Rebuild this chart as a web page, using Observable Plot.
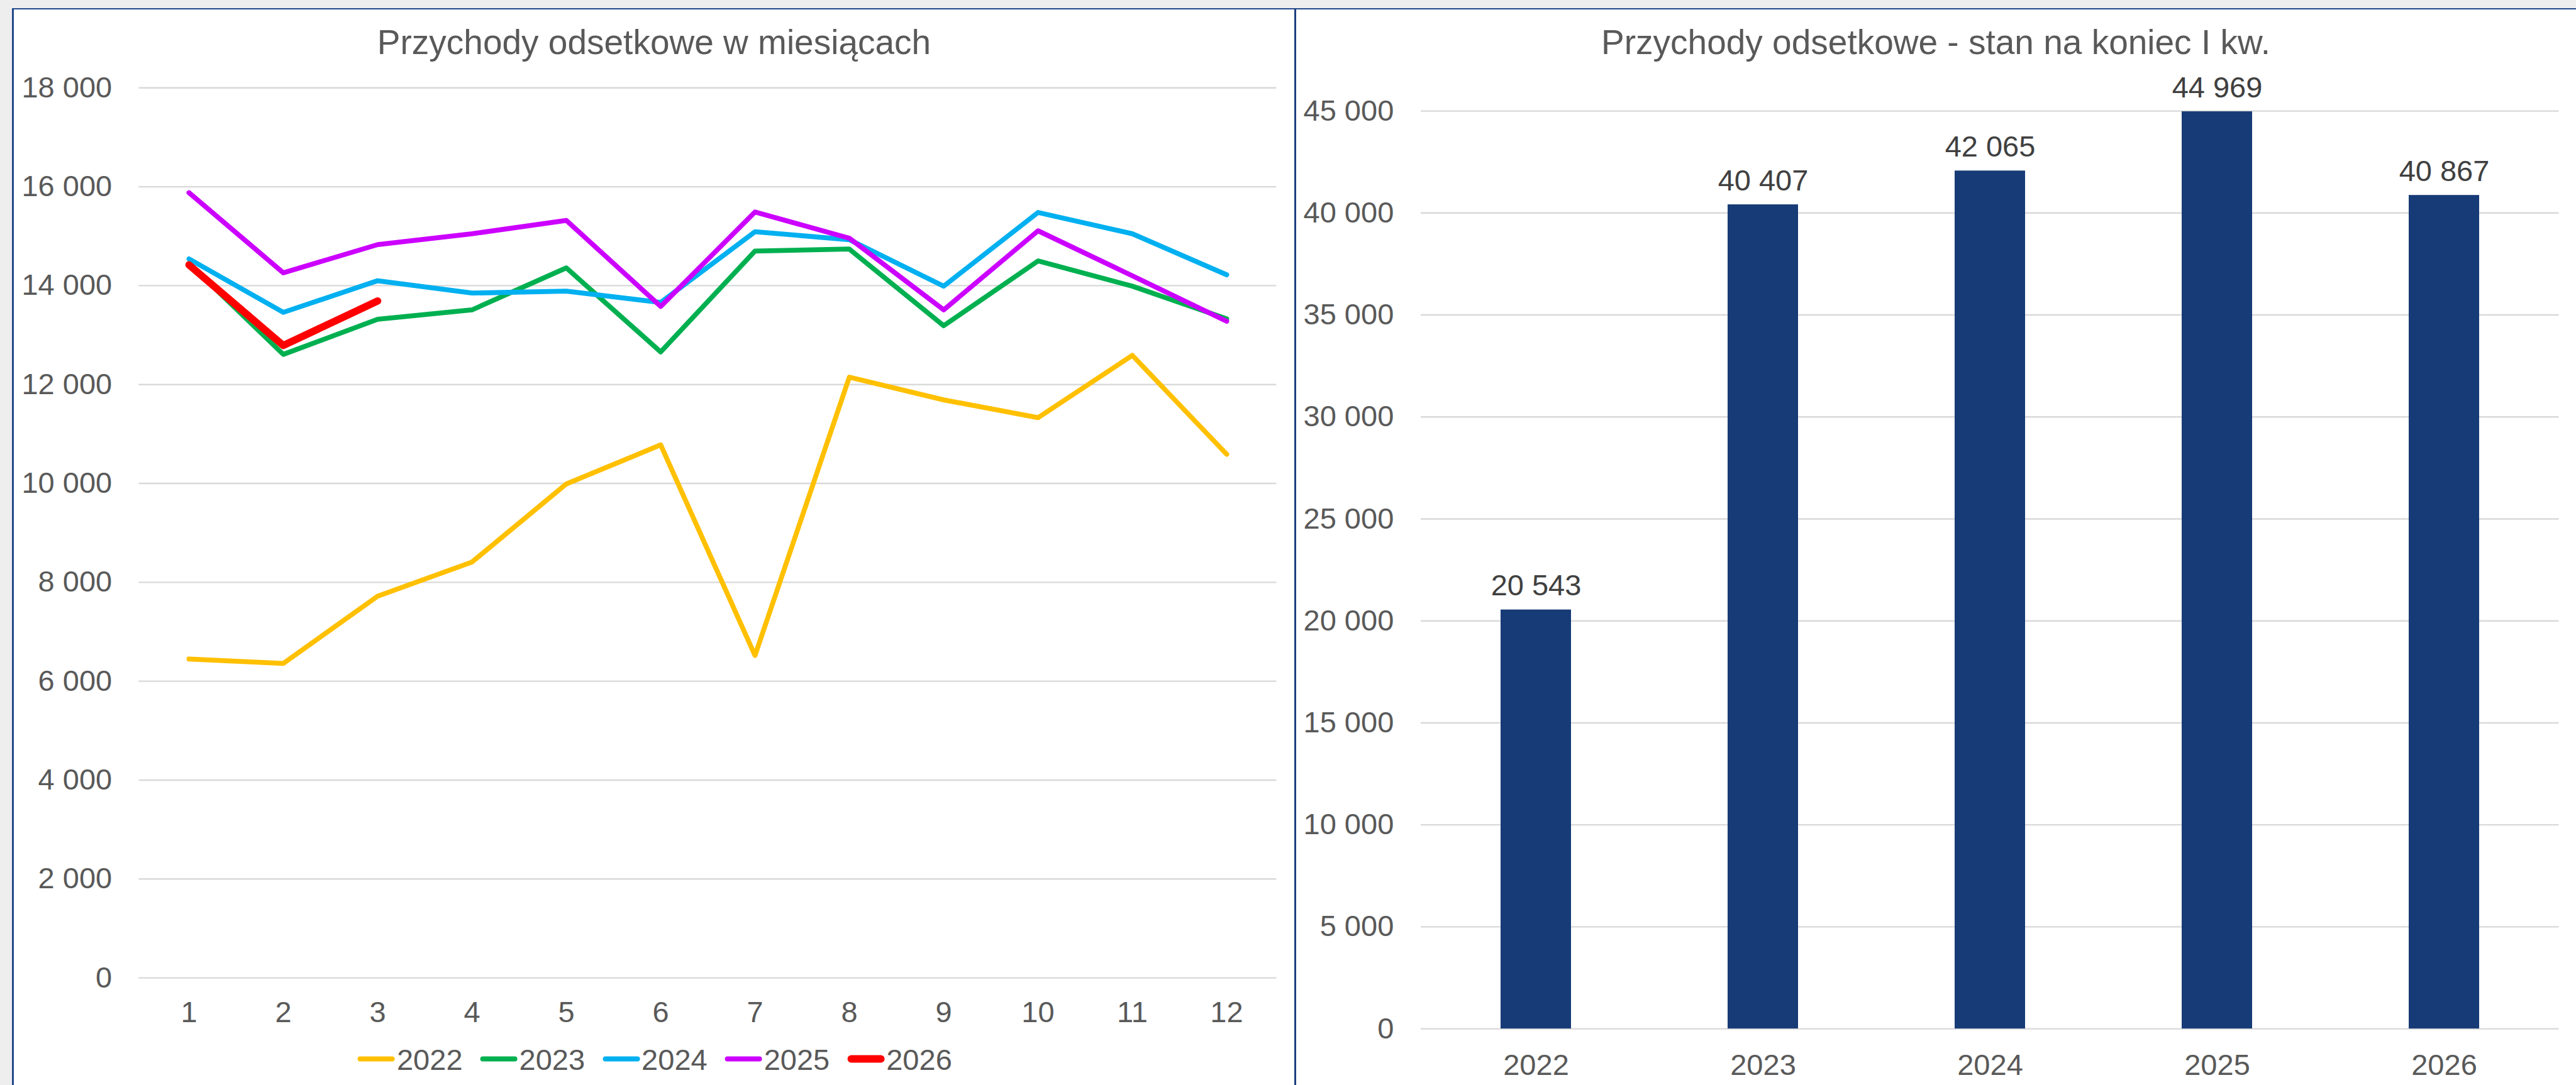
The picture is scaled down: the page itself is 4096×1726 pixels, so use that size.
<!DOCTYPE html>
<html>
<head>
<meta charset="utf-8">
<script src="https://cdn.jsdelivr.net/npm/d3@7"></script>
<script src="https://cdn.jsdelivr.net/npm/@observablehq/plot@0.6"></script>
<style>
  html, body { margin: 0; padding: 0; }
  body { width: 4096px; height: 1726px; background: #eeeeee; position: relative; overflow: hidden;
         font-family: "Liberation Sans", Arial, sans-serif; color: #595959; }
  .abs { position: absolute; }
  .title { position: absolute; transform: translate(-50%, -50%); font-size: 55px; white-space: nowrap; line-height: 1; }
  .legend { position: absolute; transform: translate(-50%, -50%); display: flex; align-items: center; gap: 28px; font-size: 47px; line-height: 1; }
  .legend .item { display: flex; align-items: center; }
  .legend .sw { width: 59px; border-radius: 6px; margin-right: 3px; }
  svg { position: absolute; top: 0; background: transparent !important; }
</style>
</head>
<body>
<div class="abs" style="left:20.4px; top:13.6px; right:0; bottom:0; background:#fff;"></div>
<div class="abs" style="left:20.4px; top:12.6px; right:0; height:2.2px; background:#22498c;"></div>
<div class="abs" style="left:19.4px; top:12.6px; width:2.2px; bottom:0; background:#22498c;"></div>
<div class="abs" style="left:2058.4px; top:12.6px; width:2.2px; bottom:0; background:#1d3f82;"></div>
<div id="left"></div>
<div id="right"></div>
<script>
// ---------- DATA ----------
const months = [1, 2, 3, 4, 5, 6, 7, 8, 9, 10, 11, 12];
const seriesNames = ["2022", "2023", "2024", "2025", "2026"];
const seriesColors = ["#FFC000", "#00B050", "#00B0F0", "#CC00FF", "#FF0000"];
const values2022 = [6450, 6360, 7720, 8410, 9990, 10780, 6520, 12150, 11690, 11330, 12590, 10590];
const values2023 = [14450, 12610, 13320, 13510, 14360, 12660, 14700, 14740, 13190, 14500, 13990, 13330];
const values2024 = [14540, 13460, 14100, 13850, 13890, 13660, 15090, 14930, 13990, 15480, 15050, 14220];
const values2025 = [15880, 14260, 14830, 15050, 15320, 13580, 15490, 14960, 13510, 15110, 14200, 13280];
const values2026 = [14420, 12790, 13690];
const yTicksLeft = [0, 2000, 4000, 6000, 8000, 10000, 12000, 14000, 16000, 18000];

const barYears = ["2022", "2023", "2024", "2025", "2026"];
const barValues = [20543, 40407, 42065, 44969, 40867];
const yTicksRight = [0, 5000, 10000, 15000, 20000, 25000, 30000, 35000, 40000, 45000];

const leftTitle = "Przychody odsetkowe w miesiącach";
const rightTitle = "Przychody odsetkowe - stan na koniec I kw.";

// ---------- BUILD ----------
const fmt = d3.formatLocale({decimal: ",", thousands: " ", grouping: [3], currency: ["", ""]}).format(",d");
const allSeries = [values2022, values2023, values2024, values2025, values2026];
const lineRows = [];
allSeries.forEach((vals, i) => vals.forEach((v, j) => lineRows.push({series: seriesNames[i], month: months[j], value: v})));
const widths = {"2022": 7.8, "2023": 7.8, "2024": 7.8, "2025": 7.8, "2026": 11.6};

const FONT = "'Liberation Sans', Arial, sans-serif";
const H = 1726;

const leftW = 2059;
const leftPlot = Plot.plot({
  width: leftW, height: H,
  marginLeft: 220.4, marginRight: 29.6, marginTop: 139.3, marginBottom: 170.9,
  style: {fontFamily: FONT, fontSize: "47px", color: "#595959", background: "transparent"},
  x: {type: "point", domain: months, padding: 0.5},
  y: {domain: [0, 18000]},
  marks: [
    Plot.gridY(yTicksLeft, {stroke: "#d9d9d9", strokeOpacity: 1, strokeWidth: 2.4}),
    Plot.axisY(yTicksLeft, {tickSize: 0, tickPadding: 42.7, tickFormat: fmt, fontSize: 47, label: null}),
    Plot.axisX({tickSize: 0, tickPadding: 37, fontSize: 47, label: null}),
    ...seriesNames.map((name, i) => Plot.lineY(lineRows.filter(d => d.series === name), {
      x: "month", y: "value", stroke: seriesColors[i], strokeWidth: widths[name],
      strokeLinejoin: "round", strokeLinecap: "round"
    }))
  ]
});
leftPlot.style.left = "0px";
document.getElementById("left").appendChild(leftPlot);

const barRows = barYears.map((y, i) => ({year: y, value: barValues[i]}));
const rightW = 4096 - leftW;
const rightPlot = Plot.plot({
  width: rightW, height: H,
  marginLeft: 200, marginRight: 27.5, marginTop: 176.1, marginBottom: 89.9,
  style: {fontFamily: FONT, fontSize: "47px", color: "#595959", background: "transparent"},
  x: {type: "band", domain: barYears, paddingInner: 0.689, paddingOuter: 0.3445},
  y: {domain: [0, 45000]},
  marks: [
    Plot.gridY(yTicksRight, {stroke: "#d9d9d9", strokeOpacity: 1, strokeWidth: 2.4}),
    Plot.axisY(yTicksRight, {tickSize: 0, tickPadding: 43.2, tickFormat: fmt, fontSize: 47, label: null}),
    Plot.axisX({tickSize: 0, tickPadding: 39.6, fontSize: 47, label: null}),
    Plot.barY(barRows, {x: "year", y: "value", fill: "#173b77"}),
    Plot.text(barRows, {x: "year", y: "value", text: d => fmt(d.value), dy: -38, fontSize: 47, fill: "#404040"})
  ]
});
rightPlot.style.left = leftW + "px";
document.getElementById("right").appendChild(rightPlot);

// titles
function addTitle(text, cx, cy) {
  const d = document.createElement("div");
  d.className = "title"; d.textContent = text;
  d.style.left = cx + "px"; d.style.top = cy + "px";
  document.body.appendChild(d);
}
addTitle(leftTitle, 1040, 67);
addTitle(rightTitle, 3078, 67);

// legend
const lg = document.createElement("div");
lg.className = "legend";
lg.style.left = "1041.4px"; lg.style.top = "1684.7px";
seriesNames.forEach((name, i) => {
  const it = document.createElement("div"); it.className = "item";
  const sw = document.createElement("span"); sw.className = "sw";
  sw.style.background = seriesColors[i]; sw.style.height = (name === "2026" ? 11.5 : 8) + "px";
  const tx = document.createElement("span"); tx.textContent = name;
  it.appendChild(sw); it.appendChild(tx); lg.appendChild(it);
});
document.body.appendChild(lg);
</script>
</body>
</html>
